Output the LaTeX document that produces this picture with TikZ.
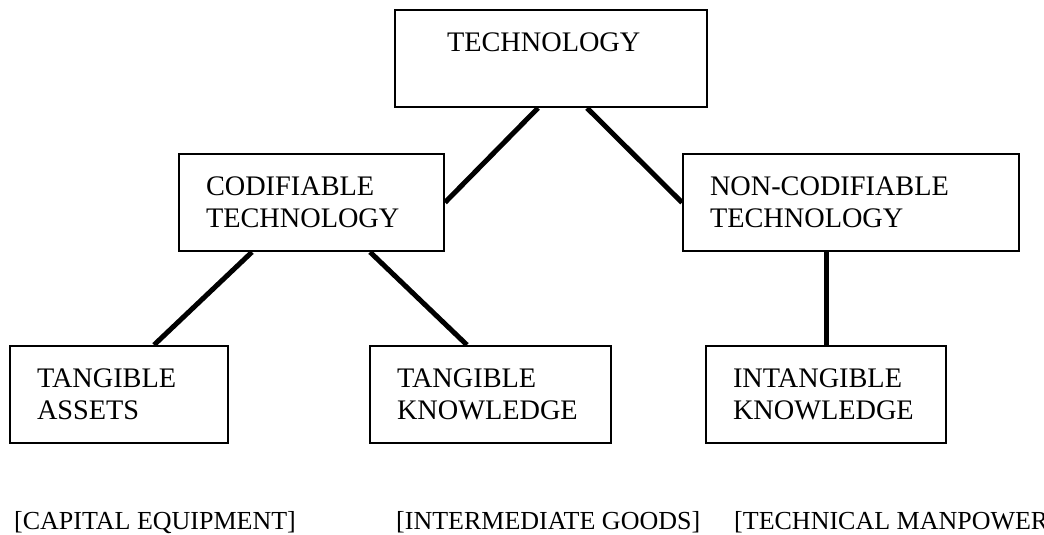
\documentclass[tikz,border=0pt]{standalone}
\usepackage{fontspec}
\setmainfont{Liberation Serif}
\usepackage{tikz}
\usetikzlibrary{%
  calc,%
  positioning%
}
\tikzset{>=latex}
\tikzset{
  box/.style={draw,line width=2pt,anchor=north west,align=left,inner xsep=27pt,inner ysep=0pt,minimum height=97pt,font=\fontsize{28.3}{32}\selectfont},
  link/.style={line width=5pt},
  tag/.style={anchor=base west,inner sep=0pt,font=\fontsize{26}{30}\selectfont}
}

\begin{document}
\begin{tikzpicture}[x=1pt,y=-1pt]
    \useasboundingbox (0,0) rectangle (1044,535);
    \node[box,text width=258pt] (tech) at (394,9) {\hspace*{25pt}TECHNOLOGY\\ \mbox{}};
    \node[box,text width=211pt] (cod) at (178,153) {CODIFIABLE\\ TECHNOLOGY};
    \node[box,text width=282pt] (noncod) at (682,153) {NON-CODIFIABLE\\ TECHNOLOGY};
    \node[box,text width=164pt] (tasset) at (9,345) {TANGIBLE\\ ASSETS};
    \node[box,text width=187pt] (tknow) at (369,345) {TANGIBLE\\ KNOWLEDGE};
    \node[box,text width=186pt] (intang) at (705,345) {INTANGIBLE\\ KNOWLEDGE};
    \draw[link] ([xshift=-13pt]tech.south) -- (cod.east);
    \draw[link] ([xshift=36pt]tech.south) -- (noncod.west);
    \draw[link] ([xshift=-59.5pt]cod.south) -- ([xshift=35pt]tasset.north);
    \draw[link] ([xshift=58.5pt]cod.south) -- ([xshift=-23.5pt]tknow.north);
    \draw[link] ([xshift=-25pt]noncod.south) -- (intang.north);
    \node[tag] (capital) at (14,529) {[CAPITAL EQUIPMENT]};
    \node[tag] (goods) at (396,529) {[INTERMEDIATE GOODS]};
    \node[tag] (manpower) at (734,529) {[TECHNICAL MANPOWER]};
  \end{tikzpicture}
\end{document}
